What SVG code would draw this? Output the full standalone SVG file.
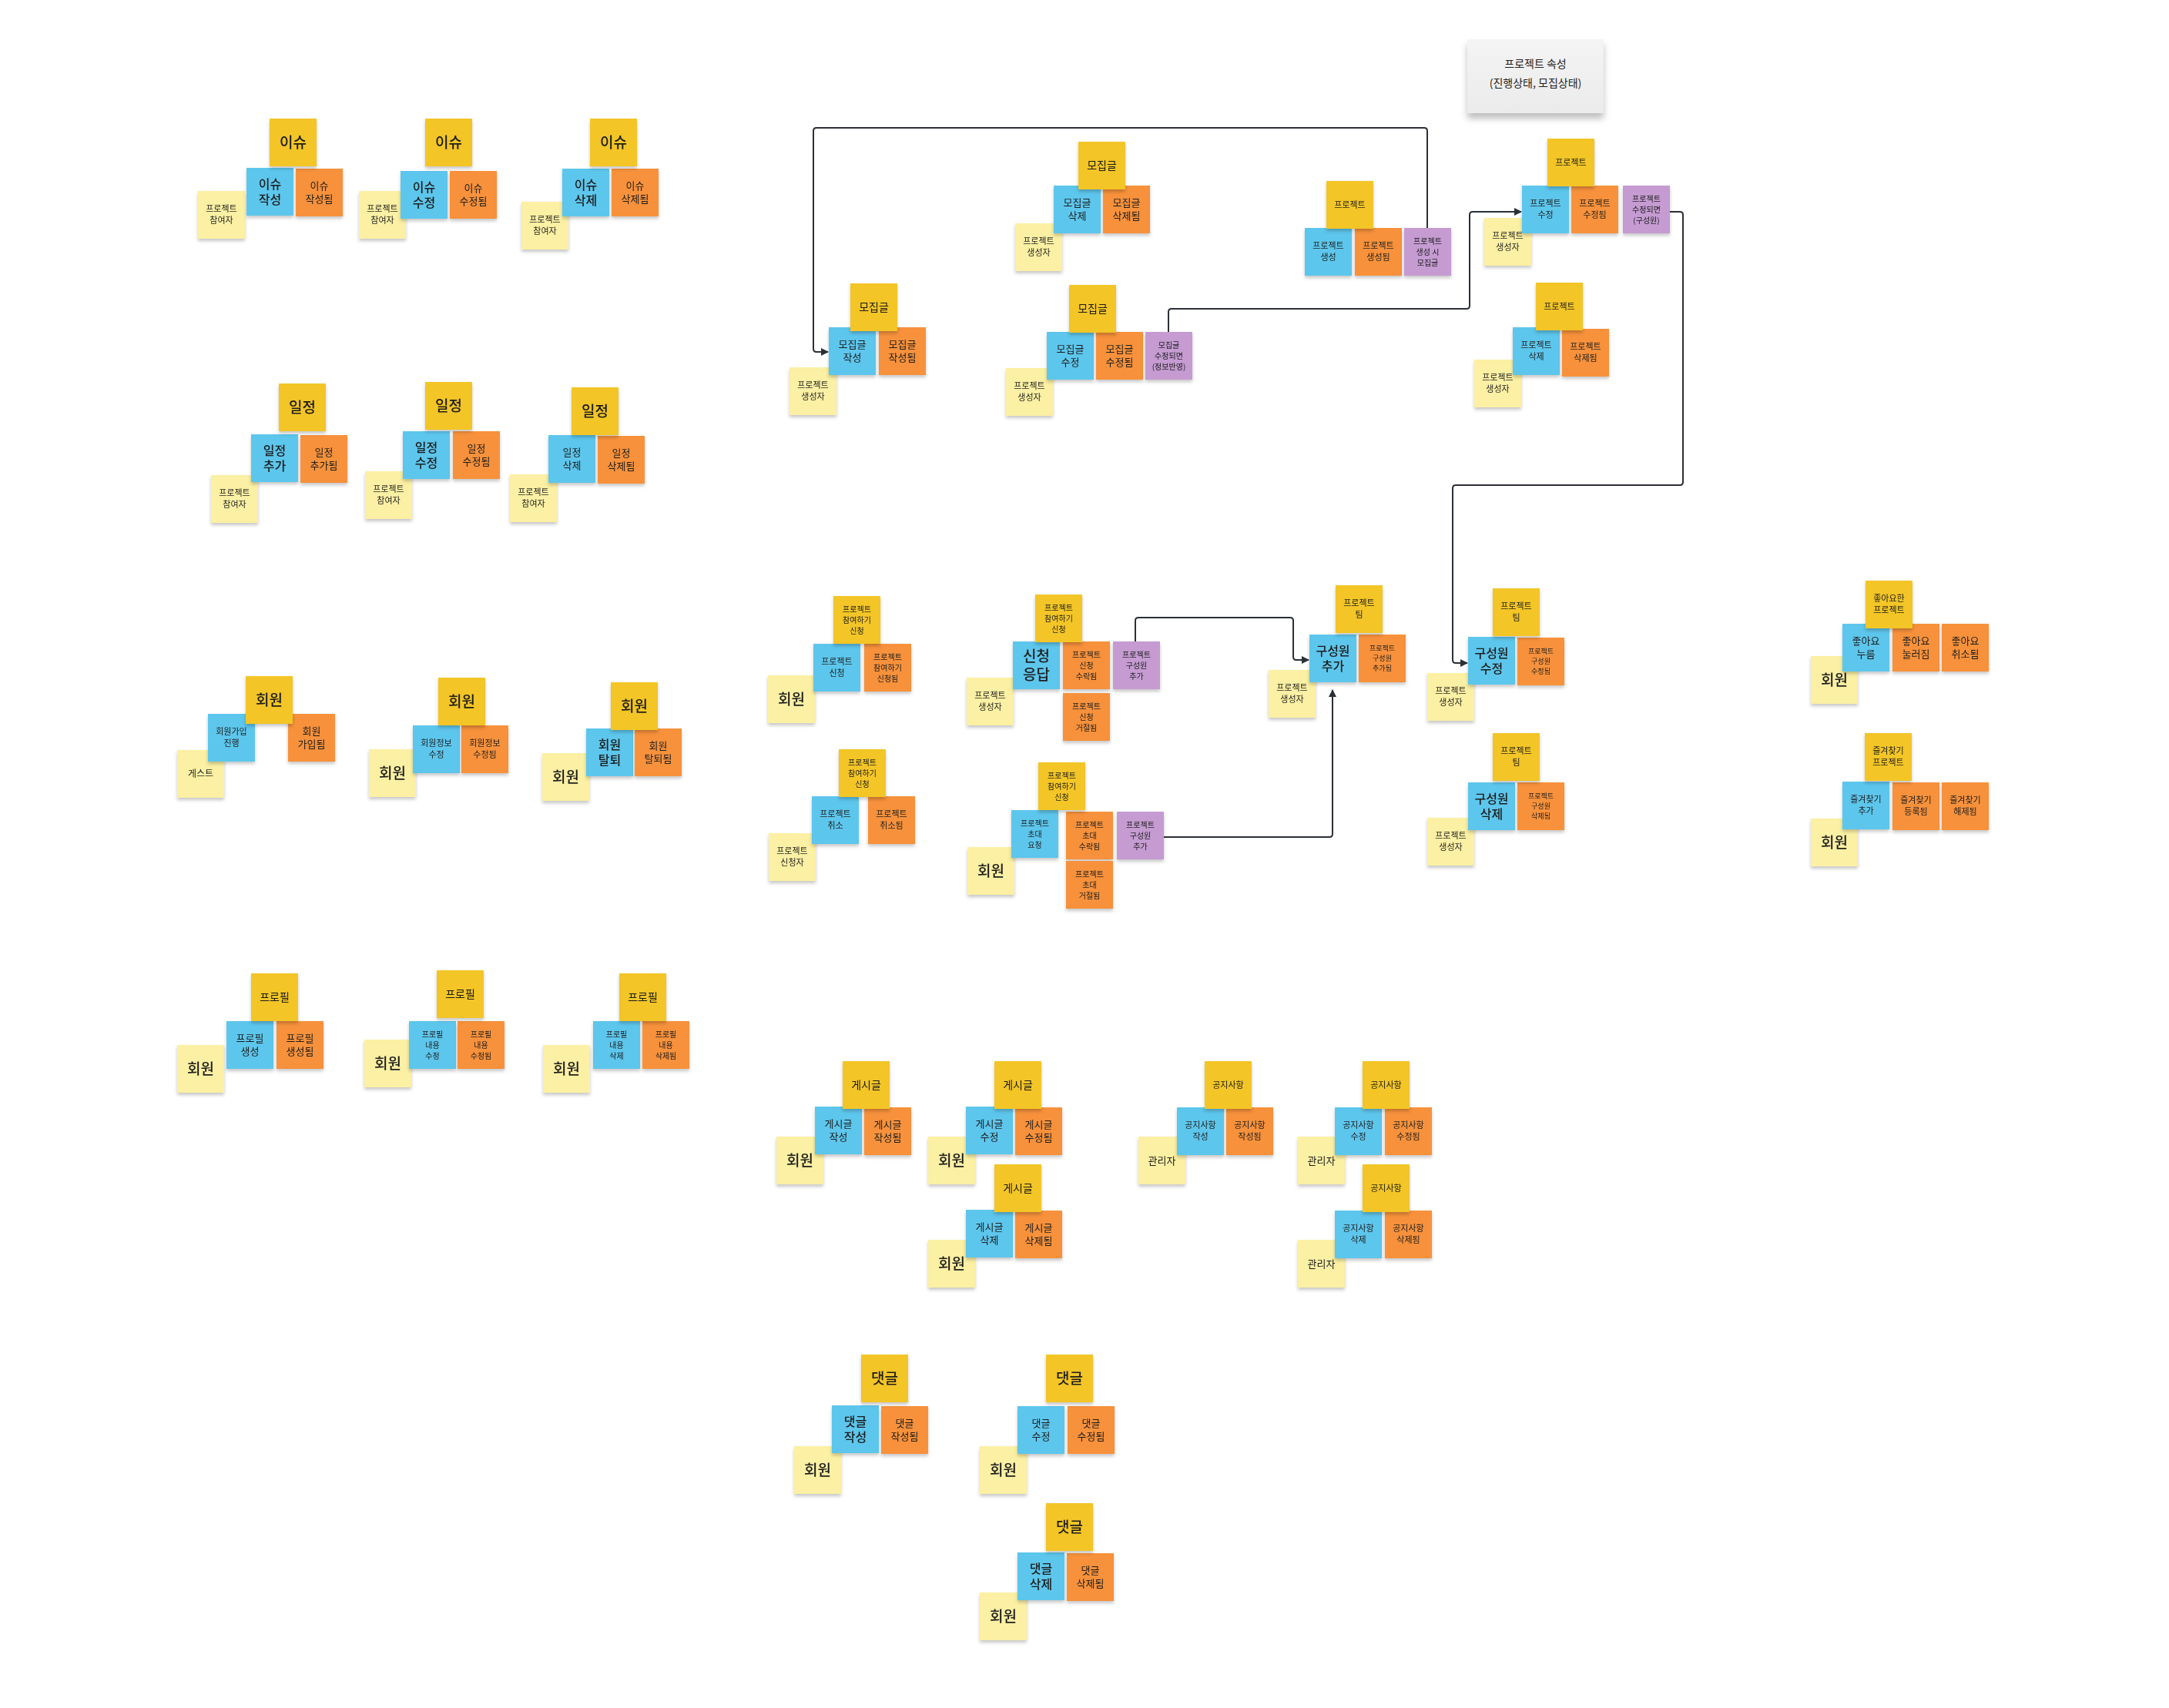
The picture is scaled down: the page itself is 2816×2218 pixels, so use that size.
<svg xmlns="http://www.w3.org/2000/svg" width="2816" height="2218" viewBox="0 0 2816 2218">
<defs>
  <filter id="sh" x="-20%" y="-20%" width="140%" height="150%">
    <feDropShadow dx="0" dy="3" stdDeviation="2" flood-color="#000" flood-opacity="0.22"/>
  </filter>
  <filter id="shCard" x="-20%" y="-20%" width="140%" height="160%">
    <feDropShadow dx="0" dy="7" stdDeviation="4" flood-color="#000" flood-opacity="0.25"/>
  </filter>
  <linearGradient id="cardFill" x1="0" y1="0" x2="0" y2="1">
    <stop offset="0" stop-color="#f4f4f4"/>
    <stop offset="1" stop-color="#ebebeb"/>
  </linearGradient>
  <marker id="arr" viewBox="0 0 10 10" refX="9" refY="5" markerWidth="10" markerHeight="10" markerUnits="userSpaceOnUse" orient="auto">
    <path d="M0,0 L10,5 L0,10 z" fill="#2b2f36"/>
  </marker>
  <style>
    .note{filter:url(#sh)}
    .agg rect{fill:#F3C525}
    .cmd rect{fill:#5DC6EC}
    .evt rect{fill:#F7913B}
    .act rect{fill:#FBF0A3}
    .pol rect{fill:#C59BD2}
    text{font-family:"Noto Sans CJK KR","Noto Sans",sans-serif;fill:#1e1e1e;text-anchor:middle}
    .f19{font-size:19px;font-weight:500}
    .f16{font-size:16px;font-weight:500}
    .f14{font-size:14px}
    .f13{font-size:13px}
    .f12{font-size:12px}
    .f11{font-size:11px}
    .f10{font-size:10px}
    .f9{font-size:9px}
    .edge{fill:none;stroke:#2b2f36;stroke-width:2;stroke-linejoin:round}
  </style>
</defs>
<rect width="2816" height="2218" fill="#ffffff"/>

<!-- connectors -->
<g id="connectors">
  <path class="edge" d="M1853,296 V170 Q1853,166 1849,166 H1060 Q1056,166 1056,170 V453 Q1056,457 1060,457 H1075" marker-end="url(#arr)"/>
  <path class="edge" d="M1517,431 V405 Q1517,401 1521,401 H1904 Q1908,401 1908,397 V279 Q1908,275 1912,275 H1975" marker-end="url(#arr)"/>
  <path class="edge" d="M2167,275 H2181 Q2185,275 2185,279 V626 Q2185,630 2181,630 H1890 Q1886,630 1886,634 V857 Q1886,861 1890,861 H1905" marker-end="url(#arr)"/>
  <path class="edge" d="M1474,833 V806 Q1474,802 1478,802 H1675 Q1679,802 1679,806 V853 Q1679,857 1683,857 H1699" marker-end="url(#arr)"/>
  <path class="edge" d="M1509,1087 H1726 Q1730,1087 1730,1083 V896" marker-end="url(#arr)"/>
</g>

<!-- project attribute card -->
<g id="card-project-attr">
  <rect x="1905" y="51" width="177" height="96" fill="url(#cardFill)" filter="url(#shCard)"/>
  <text x="1993.5" y="88" class="f14">프로젝트 속성</text>
  <text x="1993.5" y="113" class="f14">(진행상태, 모집상태)</text>
</g>

<!-- issue -->
<g id="issue-create">
  <g id="issue-create-actor" class="note act" transform="translate(257 248)"><rect width="61" height="62"/><text x="30.5" y="27" class="f11">프로젝트<tspan x="30.5" dy="15">참여자</tspan></text></g>
  <g id="issue-create-cmd" class="note cmd" transform="translate(320 218)"><rect width="61" height="62"/><text x="30.5" y="27" class="f16">이슈<tspan x="30.5" dy="20">작성</tspan></text></g>
  <g id="issue-create-evt" class="note evt" transform="translate(384 219)"><rect width="61" height="62"/><text x="30.5" y="27" class="f13">이슈<tspan x="30.5" dy="17">작성됨</tspan></text></g>
  <g id="issue-create-agg" class="note agg" transform="translate(350 154)"><rect width="61" height="62"/><text x="30.5" y="38" class="f19">이슈</text></g>
</g>
<g id="issue-update">
  <g id="issue-update-actor" class="note act" transform="translate(466 248)"><rect width="61" height="62"/><text x="30.5" y="27" class="f11">프로젝트<tspan x="30.5" dy="15">참여자</tspan></text></g>
  <g id="issue-update-cmd" class="note cmd" transform="translate(520 222)"><rect width="61" height="62"/><text x="30.5" y="27" class="f16">이슈<tspan x="30.5" dy="20">수정</tspan></text></g>
  <g id="issue-update-evt" class="note evt" transform="translate(584 222)"><rect width="61" height="62"/><text x="30.5" y="27" class="f13">이슈<tspan x="30.5" dy="17">수정됨</tspan></text></g>
  <g id="issue-update-agg" class="note agg" transform="translate(552 154)"><rect width="61" height="62"/><text x="30.5" y="38" class="f19">이슈</text></g>
</g>
<g id="issue-delete">
  <g id="issue-delete-actor" class="note act" transform="translate(677 262)"><rect width="61" height="62"/><text x="30.5" y="27" class="f11">프로젝트<tspan x="30.5" dy="15">참여자</tspan></text></g>
  <g id="issue-delete-cmd" class="note cmd" transform="translate(730 219)"><rect width="61" height="62"/><text x="30.5" y="27" class="f16">이슈<tspan x="30.5" dy="20">삭제</tspan></text></g>
  <g id="issue-delete-evt" class="note evt" transform="translate(794 219)"><rect width="61" height="62"/><text x="30.5" y="27" class="f13">이슈<tspan x="30.5" dy="17">삭제됨</tspan></text></g>
  <g id="issue-delete-agg" class="note agg" transform="translate(766 154)"><rect width="61" height="62"/><text x="30.5" y="38" class="f19">이슈</text></g>
</g>

<!-- schedule -->
<g id="schedule-add">
  <g id="schedule-add-actor" class="note act" transform="translate(274 617)"><rect width="61" height="62"/><text x="30.5" y="27" class="f11">프로젝트<tspan x="30.5" dy="15">참여자</tspan></text></g>
  <g id="schedule-add-cmd" class="note cmd" transform="translate(326 564)"><rect width="61" height="62"/><text x="30.5" y="27" class="f16">일정<tspan x="30.5" dy="20">추가</tspan></text></g>
  <g id="schedule-add-evt" class="note evt" transform="translate(390 565)"><rect width="61" height="62"/><text x="30.5" y="27" class="f13">일정<tspan x="30.5" dy="17">추가됨</tspan></text></g>
  <g id="schedule-add-agg" class="note agg" transform="translate(362 498)"><rect width="61" height="62"/><text x="30.5" y="38" class="f19">일정</text></g>
</g>
<g id="schedule-update">
  <g id="schedule-update-actor" class="note act" transform="translate(474 612)"><rect width="61" height="62"/><text x="30.5" y="27" class="f11">프로젝트<tspan x="30.5" dy="15">참여자</tspan></text></g>
  <g id="schedule-update-cmd" class="note cmd" transform="translate(523 560)"><rect width="61" height="62"/><text x="30.5" y="27" class="f16">일정<tspan x="30.5" dy="20">수정</tspan></text></g>
  <g id="schedule-update-evt" class="note evt" transform="translate(588 560)"><rect width="61" height="62"/><text x="30.5" y="27" class="f13">일정<tspan x="30.5" dy="17">수정됨</tspan></text></g>
  <g id="schedule-update-agg" class="note agg" transform="translate(552 496)"><rect width="61" height="62"/><text x="30.5" y="38" class="f19">일정</text></g>
</g>
<g id="schedule-delete">
  <g id="schedule-delete-actor" class="note act" transform="translate(662 616)"><rect width="61" height="62"/><text x="30.5" y="27" class="f11">프로젝트<tspan x="30.5" dy="15">참여자</tspan></text></g>
  <g id="schedule-delete-cmd" class="note cmd" transform="translate(712 565)"><rect width="61" height="62"/><text x="30.5" y="27" class="f13">일정<tspan x="30.5" dy="17">삭제</tspan></text></g>
  <g id="schedule-delete-evt" class="note evt" transform="translate(776 566)"><rect width="61" height="62"/><text x="30.5" y="27" class="f13">일정<tspan x="30.5" dy="17">삭제됨</tspan></text></g>
  <g id="schedule-delete-agg" class="note agg" transform="translate(742 503)"><rect width="61" height="62"/><text x="30.5" y="38" class="f19">일정</text></g>
</g>

<!-- member -->
<g id="member-join">
  <g id="member-join-actor" class="note act" transform="translate(230 974)"><rect width="61" height="62"/><text x="30.5" y="35" class="f12">게스트</text></g>
  <g id="member-join-cmd" class="note cmd" transform="translate(270 927)"><rect width="61" height="62"/><text x="30.5" y="27" class="f11">회원가입<tspan x="30.5" dy="15">진행</tspan></text></g>
  <g id="member-join-evt" class="note evt" transform="translate(374 927)"><rect width="61" height="62"/><text x="30.5" y="27" class="f13">회원<tspan x="30.5" dy="17">가입됨</tspan></text></g>
  <g id="member-join-agg" class="note agg" transform="translate(319 878)"><rect width="61" height="62"/><text x="30.5" y="38" class="f19">회원</text></g>
</g>
<g id="member-update">
  <g id="member-update-actor" class="note act" transform="translate(479 973)"><rect width="61" height="62"/><text x="30.5" y="38" class="f19">회원</text></g>
  <g id="member-update-cmd" class="note cmd" transform="translate(536 942)"><rect width="61" height="62"/><text x="30.5" y="27" class="f11">회원정보<tspan x="30.5" dy="15">수정</tspan></text></g>
  <g id="member-update-evt" class="note evt" transform="translate(599 942)"><rect width="61" height="62"/><text x="30.5" y="27" class="f11">회원정보<tspan x="30.5" dy="15">수정됨</tspan></text></g>
  <g id="member-update-agg" class="note agg" transform="translate(569 880)"><rect width="61" height="62"/><text x="30.5" y="38" class="f19">회원</text></g>
</g>
<g id="member-leave">
  <g id="member-leave-actor" class="note act" transform="translate(704 978)"><rect width="61" height="62"/><text x="30.5" y="38" class="f19">회원</text></g>
  <g id="member-leave-cmd" class="note cmd" transform="translate(761 946)"><rect width="61" height="62"/><text x="30.5" y="27" class="f16">회원<tspan x="30.5" dy="20">탈퇴</tspan></text></g>
  <g id="member-leave-evt" class="note evt" transform="translate(824 946)"><rect width="61" height="62"/><text x="30.5" y="27" class="f13">회원<tspan x="30.5" dy="17">탈퇴됨</tspan></text></g>
  <g id="member-leave-agg" class="note agg" transform="translate(793 886)"><rect width="61" height="62"/><text x="30.5" y="38" class="f19">회원</text></g>
</g>

<!-- profile -->
<g id="profile-create">
  <g id="profile-create-actor" class="note act" transform="translate(230 1357)"><rect width="61" height="62"/><text x="30.5" y="38" class="f19">회원</text></g>
  <g id="profile-create-cmd" class="note cmd" transform="translate(294 1326)"><rect width="61" height="62"/><text x="30.5" y="27" class="f13">프로필<tspan x="30.5" dy="17">생성</tspan></text></g>
  <g id="profile-create-evt" class="note evt" transform="translate(359 1326)"><rect width="61" height="62"/><text x="30.5" y="27" class="f13">프로필<tspan x="30.5" dy="17">생성됨</tspan></text></g>
  <g id="profile-create-agg" class="note agg" transform="translate(326 1264)"><rect width="61" height="62"/><text x="30.5" y="36" class="f14">프로필</text></g>
</g>
<g id="profile-update">
  <g id="profile-update-actor" class="note act" transform="translate(473 1350)"><rect width="61" height="62"/><text x="30.5" y="38" class="f19">회원</text></g>
  <g id="profile-update-cmd" class="note cmd" transform="translate(531 1326)"><rect width="61" height="62"/><text x="30.5" y="21" class="f10">프로필<tspan x="30.5" dy="14">내용</tspan><tspan x="30.5" dy="14">수정</tspan></text></g>
  <g id="profile-update-evt" class="note evt" transform="translate(594 1326)"><rect width="61" height="62"/><text x="30.5" y="21" class="f10">프로필<tspan x="30.5" dy="14">내용</tspan><tspan x="30.5" dy="14">수정됨</tspan></text></g>
  <g id="profile-update-agg" class="note agg" transform="translate(567 1260)"><rect width="61" height="62"/><text x="30.5" y="36" class="f14">프로필</text></g>
</g>
<g id="profile-delete">
  <g id="profile-delete-actor" class="note act" transform="translate(705 1357)"><rect width="61" height="62"/><text x="30.5" y="38" class="f19">회원</text></g>
  <g id="profile-delete-cmd" class="note cmd" transform="translate(770 1326)"><rect width="61" height="62"/><text x="30.5" y="21" class="f10">프로필<tspan x="30.5" dy="14">내용</tspan><tspan x="30.5" dy="14">삭제</tspan></text></g>
  <g id="profile-delete-evt" class="note evt" transform="translate(834 1326)"><rect width="61" height="62"/><text x="30.5" y="21" class="f10">프로필<tspan x="30.5" dy="14">내용</tspan><tspan x="30.5" dy="14">삭제됨</tspan></text></g>
  <g id="profile-delete-agg" class="note agg" transform="translate(804 1264)"><rect width="61" height="62"/><text x="30.5" y="36" class="f14">프로필</text></g>
</g>

<!-- recruitment post -->
<g id="recruit-create">
  <g id="recruit-create-actor" class="note act" transform="translate(1025 477)"><rect width="61" height="62"/><text x="30.5" y="27" class="f11">프로젝트<tspan x="30.5" dy="15">생성자</tspan></text></g>
  <g id="recruit-create-cmd" class="note cmd" transform="translate(1076 425)"><rect width="61" height="62"/><text x="30.5" y="27" class="f13">모집글<tspan x="30.5" dy="17">작성</tspan></text></g>
  <g id="recruit-create-evt" class="note evt" transform="translate(1141 425)"><rect width="61" height="62"/><text x="30.5" y="27" class="f13">모집글<tspan x="30.5" dy="17">작성됨</tspan></text></g>
  <g id="recruit-create-agg" class="note agg" transform="translate(1104 368)"><rect width="61" height="62"/><text x="30.5" y="36" class="f14">모집글</text></g>
</g>
<g id="recruit-delete">
  <g id="recruit-delete-actor" class="note act" transform="translate(1318 290)"><rect width="61" height="62"/><text x="30.5" y="27" class="f11">프로젝트<tspan x="30.5" dy="15">생성자</tspan></text></g>
  <g id="recruit-delete-cmd" class="note cmd" transform="translate(1368 241)"><rect width="61" height="62"/><text x="30.5" y="27" class="f13">모집글<tspan x="30.5" dy="17">삭제</tspan></text></g>
  <g id="recruit-delete-evt" class="note evt" transform="translate(1432 241)"><rect width="61" height="62"/><text x="30.5" y="27" class="f13">모집글<tspan x="30.5" dy="17">삭제됨</tspan></text></g>
  <g id="recruit-delete-agg" class="note agg" transform="translate(1400 184)"><rect width="61" height="62"/><text x="30.5" y="36" class="f14">모집글</text></g>
</g>
<g id="recruit-update">
  <g id="recruit-update-actor" class="note act" transform="translate(1306 478)"><rect width="61" height="62"/><text x="30.5" y="27" class="f11">프로젝트<tspan x="30.5" dy="15">생성자</tspan></text></g>
  <g id="recruit-update-cmd" class="note cmd" transform="translate(1359 431)"><rect width="61" height="62"/><text x="30.5" y="27" class="f13">모집글<tspan x="30.5" dy="17">수정</tspan></text></g>
  <g id="recruit-update-evt" class="note evt" transform="translate(1423 431)"><rect width="61" height="62"/><text x="30.5" y="27" class="f13">모집글<tspan x="30.5" dy="17">수정됨</tspan></text></g>
  <g id="recruit-update-pol" class="note pol" transform="translate(1487 431)"><rect width="61" height="62"/><text x="30.5" y="21" class="f10">모집글<tspan x="30.5" dy="14">수정되면</tspan><tspan x="30.5" dy="14">(정보반영)</tspan></text></g>
  <g id="recruit-update-agg" class="note agg" transform="translate(1388 370)"><rect width="61" height="62"/><text x="30.5" y="36" class="f14">모집글</text></g>
</g>

<!-- project -->
<g id="project-create">
  <g id="project-create-cmd" class="note cmd" transform="translate(1694 296)"><rect width="61" height="62"/><text x="30.5" y="27" class="f11">프로젝트<tspan x="30.5" dy="15">생성</tspan></text></g>
  <g id="project-create-evt" class="note evt" transform="translate(1759 296)"><rect width="61" height="62"/><text x="30.5" y="27" class="f11">프로젝트<tspan x="30.5" dy="15">생성됨</tspan></text></g>
  <g id="project-create-pol" class="note pol" transform="translate(1823 296)"><rect width="61" height="62"/><text x="30.5" y="21" class="f10">프로젝트<tspan x="30.5" dy="14">생성 시</tspan><tspan x="30.5" dy="14">모집글</tspan></text></g>
  <g id="project-create-agg" class="note agg" transform="translate(1722 235)"><rect width="61" height="62"/><text x="30.5" y="35" class="f11">프로젝트</text></g>
</g>
<g id="project-update">
  <g id="project-update-actor" class="note act" transform="translate(1927 283)"><rect width="61" height="62"/><text x="30.5" y="27" class="f11">프로젝트<tspan x="30.5" dy="15">생성자</tspan></text></g>
  <g id="project-update-cmd" class="note cmd" transform="translate(1976 241)"><rect width="61" height="62"/><text x="30.5" y="27" class="f11">프로젝트<tspan x="30.5" dy="15">수정</tspan></text></g>
  <g id="project-update-evt" class="note evt" transform="translate(2040 241)"><rect width="61" height="62"/><text x="30.5" y="27" class="f11">프로젝트<tspan x="30.5" dy="15">수정됨</tspan></text></g>
  <g id="project-update-pol" class="note pol" transform="translate(2107 241)"><rect width="61" height="62"/><text x="30.5" y="21" class="f10">프로젝트<tspan x="30.5" dy="14">수정되면</tspan><tspan x="30.5" dy="14">(구성원)</tspan></text></g>
  <g id="project-update-agg" class="note agg" transform="translate(2009 180)"><rect width="61" height="62"/><text x="30.5" y="35" class="f11">프로젝트</text></g>
</g>
<g id="project-delete">
  <g id="project-delete-actor" class="note act" transform="translate(1914 467)"><rect width="61" height="62"/><text x="30.5" y="27" class="f11">프로젝트<tspan x="30.5" dy="15">생성자</tspan></text></g>
  <g id="project-delete-cmd" class="note cmd" transform="translate(1964 425)"><rect width="61" height="62"/><text x="30.5" y="27" class="f11">프로젝트<tspan x="30.5" dy="15">삭제</tspan></text></g>
  <g id="project-delete-evt" class="note evt" transform="translate(2028 427)"><rect width="61" height="62"/><text x="30.5" y="27" class="f11">프로젝트<tspan x="30.5" dy="15">삭제됨</tspan></text></g>
  <g id="project-delete-agg" class="note agg" transform="translate(1994 367)"><rect width="61" height="62"/><text x="30.5" y="35" class="f11">프로젝트</text></g>
</g>

<!-- join requests -->
<g id="join-apply">
  <g id="join-apply-actor" class="note act" transform="translate(997 877)"><rect width="61" height="62"/><text x="30.5" y="38" class="f19">회원</text></g>
  <g id="join-apply-cmd" class="note cmd" transform="translate(1056 836)"><rect width="61" height="62"/><text x="30.5" y="27" class="f11">프로젝트<tspan x="30.5" dy="15">신청</tspan></text></g>
  <g id="join-apply-evt" class="note evt" transform="translate(1122 836)"><rect width="61" height="62"/><text x="30.5" y="21" class="f10">프로젝트<tspan x="30.5" dy="14">참여하기</tspan><tspan x="30.5" dy="14">신청됨</tspan></text></g>
  <g id="join-apply-agg" class="note agg" transform="translate(1082 774)"><rect width="61" height="62"/><text x="30.5" y="21" class="f10">프로젝트<tspan x="30.5" dy="14">참여하기</tspan><tspan x="30.5" dy="14">신청</tspan></text></g>
</g>
<g id="join-respond">
  <g id="join-respond-actor" class="note act" transform="translate(1255 880)"><rect width="61" height="62"/><text x="30.5" y="27" class="f11">프로젝트<tspan x="30.5" dy="15">생성자</tspan></text></g>
  <g id="join-respond-cmd" class="note cmd" transform="translate(1315 833)"><rect width="61" height="62"/><text x="30.5" y="26" class="f19">신청<tspan x="30.5" dy="24">응답</tspan></text></g>
  <g id="join-respond-evt-accept" class="note evt" transform="translate(1380 833)"><rect width="61" height="62"/><text x="30.5" y="21" class="f10">프로젝트<tspan x="30.5" dy="14">신청</tspan><tspan x="30.5" dy="14">수락됨</tspan></text></g>
  <g id="join-respond-evt-reject" class="note evt" transform="translate(1380 900)"><rect width="61" height="62"/><text x="30.5" y="21" class="f10">프로젝트<tspan x="30.5" dy="14">신청</tspan><tspan x="30.5" dy="14">거절됨</tspan></text></g>
  <g id="join-respond-pol" class="note pol" transform="translate(1445 833)"><rect width="61" height="62"/><text x="30.5" y="21" class="f10">프로젝트<tspan x="30.5" dy="14">구성원</tspan><tspan x="30.5" dy="14">추가</tspan></text></g>
  <g id="join-respond-agg" class="note agg" transform="translate(1344 772)"><rect width="61" height="62"/><text x="30.5" y="21" class="f10">프로젝트<tspan x="30.5" dy="14">참여하기</tspan><tspan x="30.5" dy="14">신청</tspan></text></g>
</g>
<g id="join-cancel">
  <g id="join-cancel-actor" class="note act" transform="translate(998 1082)"><rect width="61" height="62"/><text x="30.5" y="27" class="f11">프로젝트<tspan x="30.5" dy="15">신청자</tspan></text></g>
  <g id="join-cancel-cmd" class="note cmd" transform="translate(1054 1034)"><rect width="61" height="62"/><text x="30.5" y="27" class="f11">프로젝트<tspan x="30.5" dy="15">취소</tspan></text></g>
  <g id="join-cancel-evt" class="note evt" transform="translate(1127 1034)"><rect width="61" height="62"/><text x="30.5" y="27" class="f11">프로젝트<tspan x="30.5" dy="15">취소됨</tspan></text></g>
  <g id="join-cancel-agg" class="note agg" transform="translate(1089 973)"><rect width="61" height="62"/><text x="30.5" y="21" class="f10">프로젝트<tspan x="30.5" dy="14">참여하기</tspan><tspan x="30.5" dy="14">신청</tspan></text></g>
</g>
<g id="join-invite">
  <g id="join-invite-actor" class="note act" transform="translate(1256 1100)"><rect width="61" height="62"/><text x="30.5" y="38" class="f19">회원</text></g>
  <g id="join-invite-cmd" class="note cmd" transform="translate(1313 1052)"><rect width="61" height="62"/><text x="30.5" y="21" class="f10">프로젝트<tspan x="30.5" dy="14">초대</tspan><tspan x="30.5" dy="14">요청</tspan></text></g>
  <g id="join-invite-evt-accept" class="note evt" transform="translate(1384 1054)"><rect width="61" height="62"/><text x="30.5" y="21" class="f10">프로젝트<tspan x="30.5" dy="14">초대</tspan><tspan x="30.5" dy="14">수락됨</tspan></text></g>
  <g id="join-invite-evt-reject" class="note evt" transform="translate(1384 1118)"><rect width="61" height="62"/><text x="30.5" y="21" class="f10">프로젝트<tspan x="30.5" dy="14">초대</tspan><tspan x="30.5" dy="14">거절됨</tspan></text></g>
  <g id="join-invite-pol" class="note pol" transform="translate(1450 1054)"><rect width="61" height="62"/><text x="30.5" y="21" class="f10">프로젝트<tspan x="30.5" dy="14">구성원</tspan><tspan x="30.5" dy="14">추가</tspan></text></g>
  <g id="join-invite-agg" class="note agg" transform="translate(1348 990)"><rect width="61" height="62"/><text x="30.5" y="21" class="f10">프로젝트<tspan x="30.5" dy="14">참여하기</tspan><tspan x="30.5" dy="14">신청</tspan></text></g>
</g>

<!-- project team -->
<g id="team-add">
  <g id="team-add-actor" class="note act" transform="translate(1647 870)"><rect width="61" height="62"/><text x="30.5" y="27" class="f11">프로젝트<tspan x="30.5" dy="15">생성자</tspan></text></g>
  <g id="team-add-cmd" class="note cmd" transform="translate(1700 824)"><rect width="61" height="62"/><text x="30.5" y="27" class="f16">구성원<tspan x="30.5" dy="20">추가</tspan></text></g>
  <g id="team-add-evt" class="note evt" transform="translate(1764 824)"><rect width="61" height="62"/><text x="30.5" y="21" class="f9">프로젝트<tspan x="30.5" dy="13">구성원</tspan><tspan x="30.5" dy="13">추가됨</tspan></text></g>
  <g id="team-add-agg" class="note agg" transform="translate(1734 760)"><rect width="61" height="62"/><text x="30.5" y="27" class="f11">프로젝트<tspan x="30.5" dy="15">팀</tspan></text></g>
</g>
<g id="team-update">
  <g id="team-update-actor" class="note act" transform="translate(1853 874)"><rect width="61" height="62"/><text x="30.5" y="27" class="f11">프로젝트<tspan x="30.5" dy="15">생성자</tspan></text></g>
  <g id="team-update-cmd" class="note cmd" transform="translate(1906 827)"><rect width="61" height="62"/><text x="30.5" y="27" class="f16">구성원<tspan x="30.5" dy="20">수정</tspan></text></g>
  <g id="team-update-evt" class="note evt" transform="translate(1970 828)"><rect width="61" height="62"/><text x="30.5" y="21" class="f9">프로젝트<tspan x="30.5" dy="13">구성원</tspan><tspan x="30.5" dy="13">수정됨</tspan></text></g>
  <g id="team-update-agg" class="note agg" transform="translate(1938 764)"><rect width="61" height="62"/><text x="30.5" y="27" class="f11">프로젝트<tspan x="30.5" dy="15">팀</tspan></text></g>
</g>
<g id="team-delete">
  <g id="team-delete-actor" class="note act" transform="translate(1853 1062)"><rect width="61" height="62"/><text x="30.5" y="27" class="f11">프로젝트<tspan x="30.5" dy="15">생성자</tspan></text></g>
  <g id="team-delete-cmd" class="note cmd" transform="translate(1906 1016)"><rect width="61" height="62"/><text x="30.5" y="27" class="f16">구성원<tspan x="30.5" dy="20">삭제</tspan></text></g>
  <g id="team-delete-evt" class="note evt" transform="translate(1970 1016)"><rect width="61" height="62"/><text x="30.5" y="21" class="f9">프로젝트<tspan x="30.5" dy="13">구성원</tspan><tspan x="30.5" dy="13">삭제됨</tspan></text></g>
  <g id="team-delete-agg" class="note agg" transform="translate(1938 952)"><rect width="61" height="62"/><text x="30.5" y="27" class="f11">프로젝트<tspan x="30.5" dy="15">팀</tspan></text></g>
</g>

<!-- likes / favorites -->
<g id="like">
  <g id="like-actor" class="note act" transform="translate(2351 852)"><rect width="61" height="62"/><text x="30.5" y="38" class="f19">회원</text></g>
  <g id="like-cmd" class="note cmd" transform="translate(2392 810)"><rect width="61" height="62"/><text x="30.5" y="27" class="f13">좋아요<tspan x="30.5" dy="17">누름</tspan></text></g>
  <g id="like-evt-on" class="note evt" transform="translate(2457 810)"><rect width="61" height="62"/><text x="30.5" y="27" class="f13">좋아요<tspan x="30.5" dy="17">눌러짐</tspan></text></g>
  <g id="like-evt-off" class="note evt" transform="translate(2521 810)"><rect width="61" height="62"/><text x="30.5" y="27" class="f13">좋아요<tspan x="30.5" dy="17">취소됨</tspan></text></g>
  <g id="like-agg" class="note agg" transform="translate(2422 754)"><rect width="61" height="62"/><text x="30.5" y="27" class="f11">좋아요한<tspan x="30.5" dy="15">프로젝트</tspan></text></g>
</g>
<g id="favorite">
  <g id="favorite-actor" class="note act" transform="translate(2351 1063)"><rect width="61" height="62"/><text x="30.5" y="38" class="f19">회원</text></g>
  <g id="favorite-cmd" class="note cmd" transform="translate(2392 1015)"><rect width="61" height="62"/><text x="30.5" y="27" class="f11">즐겨찾기<tspan x="30.5" dy="15">추가</tspan></text></g>
  <g id="favorite-evt-on" class="note evt" transform="translate(2457 1016)"><rect width="61" height="62"/><text x="30.5" y="27" class="f11">즐겨찾기<tspan x="30.5" dy="15">등록됨</tspan></text></g>
  <g id="favorite-evt-off" class="note evt" transform="translate(2521 1016)"><rect width="61" height="62"/><text x="30.5" y="27" class="f11">즐겨찾기<tspan x="30.5" dy="15">해제됨</tspan></text></g>
  <g id="favorite-agg" class="note agg" transform="translate(2421 952)"><rect width="61" height="62"/><text x="30.5" y="27" class="f11">즐겨찾기<tspan x="30.5" dy="15">프로젝트</tspan></text></g>
</g>

<!-- board posts -->
<g id="post-create">
  <g id="post-create-actor" class="note act" transform="translate(1008 1476)"><rect width="61" height="62"/><text x="30.5" y="38" class="f19">회원</text></g>
  <g id="post-create-cmd" class="note cmd" transform="translate(1058 1437)"><rect width="61" height="62"/><text x="30.5" y="27" class="f13">게시글<tspan x="30.5" dy="17">작성</tspan></text></g>
  <g id="post-create-evt" class="note evt" transform="translate(1122 1438)"><rect width="61" height="62"/><text x="30.5" y="27" class="f13">게시글<tspan x="30.5" dy="17">작성됨</tspan></text></g>
  <g id="post-create-agg" class="note agg" transform="translate(1094 1378)"><rect width="61" height="62"/><text x="30.5" y="36" class="f14">게시글</text></g>
</g>
<g id="post-update">
  <g id="post-update-actor" class="note act" transform="translate(1205 1476)"><rect width="61" height="62"/><text x="30.5" y="38" class="f19">회원</text></g>
  <g id="post-update-cmd" class="note cmd" transform="translate(1254 1437)"><rect width="61" height="62"/><text x="30.5" y="27" class="f13">게시글<tspan x="30.5" dy="17">수정</tspan></text></g>
  <g id="post-update-evt" class="note evt" transform="translate(1318 1438)"><rect width="61" height="62"/><text x="30.5" y="27" class="f13">게시글<tspan x="30.5" dy="17">수정됨</tspan></text></g>
  <g id="post-update-agg" class="note agg" transform="translate(1291 1378)"><rect width="61" height="62"/><text x="30.5" y="36" class="f14">게시글</text></g>
</g>
<g id="post-delete">
  <g id="post-delete-actor" class="note act" transform="translate(1205 1610)"><rect width="61" height="62"/><text x="30.5" y="38" class="f19">회원</text></g>
  <g id="post-delete-cmd" class="note cmd" transform="translate(1254 1571)"><rect width="61" height="62"/><text x="30.5" y="27" class="f13">게시글<tspan x="30.5" dy="17">삭제</tspan></text></g>
  <g id="post-delete-evt" class="note evt" transform="translate(1318 1572)"><rect width="61" height="62"/><text x="30.5" y="27" class="f13">게시글<tspan x="30.5" dy="17">삭제됨</tspan></text></g>
  <g id="post-delete-agg" class="note agg" transform="translate(1291 1512)"><rect width="61" height="62"/><text x="30.5" y="36" class="f14">게시글</text></g>
</g>

<!-- notices -->
<g id="notice-create">
  <g id="notice-create-actor" class="note act" transform="translate(1478 1476)"><rect width="61" height="62"/><text x="30.5" y="36" class="f13">관리자</text></g>
  <g id="notice-create-cmd" class="note cmd" transform="translate(1528 1438)"><rect width="61" height="62"/><text x="30.5" y="27" class="f11">공지사항<tspan x="30.5" dy="15">작성</tspan></text></g>
  <g id="notice-create-evt" class="note evt" transform="translate(1592 1438)"><rect width="61" height="62"/><text x="30.5" y="27" class="f11">공지사항<tspan x="30.5" dy="15">작성됨</tspan></text></g>
  <g id="notice-create-agg" class="note agg" transform="translate(1564 1378)"><rect width="61" height="62"/><text x="30.5" y="35" class="f11">공지사항</text></g>
</g>
<g id="notice-update">
  <g id="notice-update-actor" class="note act" transform="translate(1685 1476)"><rect width="61" height="62"/><text x="30.5" y="36" class="f13">관리자</text></g>
  <g id="notice-update-cmd" class="note cmd" transform="translate(1733 1438)"><rect width="61" height="62"/><text x="30.5" y="27" class="f11">공지사항<tspan x="30.5" dy="15">수정</tspan></text></g>
  <g id="notice-update-evt" class="note evt" transform="translate(1798 1438)"><rect width="61" height="62"/><text x="30.5" y="27" class="f11">공지사항<tspan x="30.5" dy="15">수정됨</tspan></text></g>
  <g id="notice-update-agg" class="note agg" transform="translate(1769 1378)"><rect width="61" height="62"/><text x="30.5" y="35" class="f11">공지사항</text></g>
</g>
<g id="notice-delete">
  <g id="notice-delete-actor" class="note act" transform="translate(1685 1610)"><rect width="61" height="62"/><text x="30.5" y="36" class="f13">관리자</text></g>
  <g id="notice-delete-cmd" class="note cmd" transform="translate(1733 1572)"><rect width="61" height="62"/><text x="30.5" y="27" class="f11">공지사항<tspan x="30.5" dy="15">삭제</tspan></text></g>
  <g id="notice-delete-evt" class="note evt" transform="translate(1798 1572)"><rect width="61" height="62"/><text x="30.5" y="27" class="f11">공지사항<tspan x="30.5" dy="15">삭제됨</tspan></text></g>
  <g id="notice-delete-agg" class="note agg" transform="translate(1769 1512)"><rect width="61" height="62"/><text x="30.5" y="35" class="f11">공지사항</text></g>
</g>

<!-- comments -->
<g id="comment-create">
  <g id="comment-create-actor" class="note act" transform="translate(1031 1878)"><rect width="61" height="62"/><text x="30.5" y="38" class="f19">회원</text></g>
  <g id="comment-create-cmd" class="note cmd" transform="translate(1080 1825)"><rect width="61" height="62"/><text x="30.5" y="27" class="f16">댓글<tspan x="30.5" dy="20">작성</tspan></text></g>
  <g id="comment-create-evt" class="note evt" transform="translate(1144 1826)"><rect width="61" height="62"/><text x="30.5" y="27" class="f13">댓글<tspan x="30.5" dy="17">작성됨</tspan></text></g>
  <g id="comment-create-agg" class="note agg" transform="translate(1118 1759)"><rect width="61" height="62"/><text x="30.5" y="38" class="f19">댓글</text></g>
</g>
<g id="comment-update">
  <g id="comment-update-actor" class="note act" transform="translate(1272 1878)"><rect width="61" height="62"/><text x="30.5" y="38" class="f19">회원</text></g>
  <g id="comment-update-cmd" class="note cmd" transform="translate(1321 1826)"><rect width="61" height="62"/><text x="30.5" y="27" class="f13">댓글<tspan x="30.5" dy="17">수정</tspan></text></g>
  <g id="comment-update-evt" class="note evt" transform="translate(1386 1826)"><rect width="61" height="62"/><text x="30.5" y="27" class="f13">댓글<tspan x="30.5" dy="17">수정됨</tspan></text></g>
  <g id="comment-update-agg" class="note agg" transform="translate(1358 1759)"><rect width="61" height="62"/><text x="30.5" y="38" class="f19">댓글</text></g>
</g>
<g id="comment-delete">
  <g id="comment-delete-actor" class="note act" transform="translate(1272 2068)"><rect width="61" height="62"/><text x="30.5" y="38" class="f19">회원</text></g>
  <g id="comment-delete-cmd" class="note cmd" transform="translate(1321 2016)"><rect width="61" height="62"/><text x="30.5" y="27" class="f16">댓글<tspan x="30.5" dy="20">삭제</tspan></text></g>
  <g id="comment-delete-evt" class="note evt" transform="translate(1385 2017)"><rect width="61" height="62"/><text x="30.5" y="27" class="f13">댓글<tspan x="30.5" dy="17">삭제됨</tspan></text></g>
  <g id="comment-delete-agg" class="note agg" transform="translate(1358 1952)"><rect width="61" height="62"/><text x="30.5" y="38" class="f19">댓글</text></g>
</g>
</svg>
